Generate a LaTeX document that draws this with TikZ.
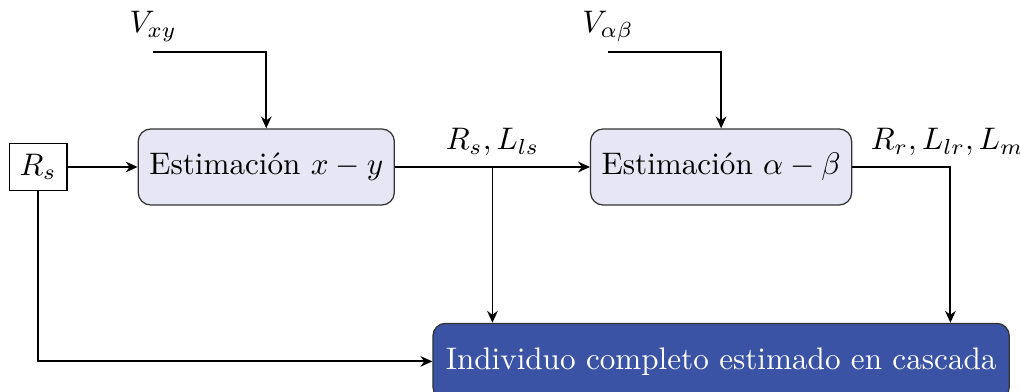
\documentclass[tikz,border=0pt]{standalone}
\usepackage{amsmath,amssymb}
\usepackage{tikz}
\usetikzlibrary{positioning,arrows.meta,calc}
\usepackage{xcolor}
\definecolor{estfill}{HTML}{E7E6F5}
\definecolor{indfill}{HTML}{3A53A4}

\begin{document}
\begin{tikzpicture}[>={Stealth[length=3.8pt,width=3.4pt]},
  estbox/.style={draw=black!80,fill=estfill,rounded corners=4pt,minimum width=82.2pt,minimum height=24.4pt},
  conn/.style={semithick}]
\useasboundingbox (0,0) rectangle (327.4pt,-125.8pt);
\node[draw,thin] (rs) at (12.2pt,-53.6pt) {$R_s$};
\node[estbox] (est1) [right=22.5pt of rs] {Estimación $x-y$};
\node[estbox,minimum width=83.8pt] (est2) [right=62.6pt of est1] {Estimación $\alpha-\beta$};
\node[draw=black!80,fill=indfill,text=white,rounded corners=4pt,minimum width=185pt,minimum height=24.4pt] (ind) [below=37.6pt of est2] {Individuo completo estimado en cascada};
\coordinate[above left=24.4pt and 36.3pt of est1.north] (vxy);
\coordinate[above left=24.4pt and 36.3pt of est2.north] (vab);
\coordinate (mid) at ($(est1.east)!0.5!(est2.west)$);
\coordinate[right=31.5pt of est2.east] (out);
\node[above] at (vxy) {$V_{xy}$};
\node[above] at (vab) {$V_{\alpha\beta}$};
\node[above] at (mid) {$R_s,L_{ls}$};
\node[above,xshift=-1pt] at (out) {$R_r,L_{lr},L_m$};
\draw[->,conn] (vxy) -| (est1.north);
\draw[->,conn] (vab) -| (est2.north);
\draw[->,conn] (rs) -- (est1);
\draw[->,conn] (est1) -- (est2);
\draw[->,conn] (mid) -- (mid |- ind.north);
\draw[->,conn] (est2.east) -- (out) -- (out |- ind.north);
\draw[->,conn] (rs.south) |- (ind.west);
\end{tikzpicture}
\end{document}
